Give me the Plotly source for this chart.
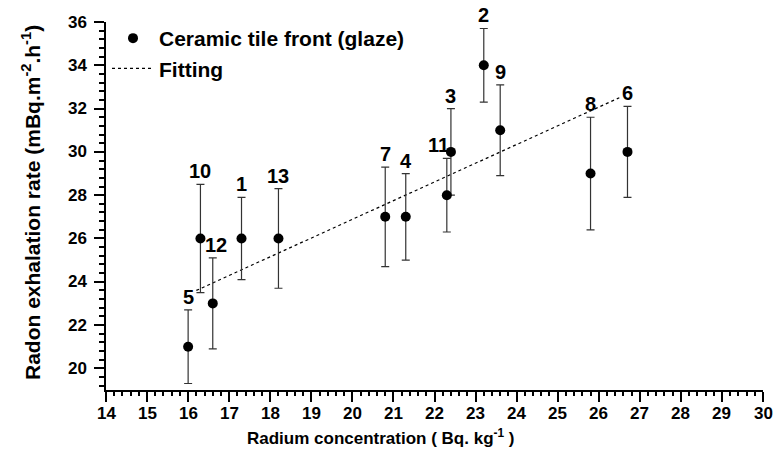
import plotly.graph_objects as go

# ---- data ----
labels = ["5", "10", "12", "1", "13", "7", "4", "11", "3", "2", "9", "8", "6"]
radium = [16.0, 16.3, 16.6, 17.3, 18.2, 20.8, 21.3, 22.3, 22.4, 23.2, 23.6, 25.8, 26.7]
exhalation = [21, 26, 23, 26, 26, 27, 27, 28, 30, 34, 31, 29, 30]
error = [1.7, 2.5, 2.1, 1.9, 2.3, 2.3, 2.0, 1.7, 2.0, 1.7, 2.1, 2.6, 2.1]
fit_x = [16.2, 26.5]
fit_y = [23.6, 32.5]
x_ticks = list(range(14, 31))
y_ticks = list(range(20, 37, 2))

# label nudges (pixels) to avoid overlaps
label_xshift = {"11": -8, "12": 3}

FONT = "Liberation Sans, Arial, sans-serif"
W, H = 775, 461
L, R, T, B = 106, 12, 22, 71
PW, PH = W - L - R, H - T - B


def px_x(p):
    return (p - L) / PW


def px_y(p):
    return (H - B - p) / PH


def bold(s):
    return "<b>" + s + "</b>"


fig = go.Figure()

fig.add_trace(go.Scatter(
    x=fit_x, y=fit_y, mode="lines", name=bold("Fitting"),
    line=dict(color="black", width=1.2, dash="dot"),
))

fig.add_trace(go.Scatter(
    x=radium, y=exhalation, mode="markers", name=bold("Ceramic tile front (glaze)"),
    marker=dict(color="black", size=10, symbol="circle"),
    error_y=dict(type="data", array=error, visible=True, color="#333333",
                 thickness=1.2, width=4),
))

for lab, xv, yv, ev in zip(labels, radium, exhalation, error):
    fig.add_annotation(
        x=xv, y=yv + ev, xref="x", yref="y", text=bold(lab), showarrow=False,
        yanchor="bottom", xanchor="center", yshift=0,
        xshift=label_xshift.get(lab, 0),
        font=dict(family=FONT, size=20, color="black"),
    )

# tick labels (bold, drawn at the axis tick values)
tick_font = dict(family=FONT, size=17, color="black")
for v in x_ticks:
    fig.add_annotation(
        x=v, y=px_y(413), xref="x", yref="paper", text=bold(str(v)),
        showarrow=False, xanchor="center", yanchor="middle", font=tick_font,
    )
for v in y_ticks:
    fig.add_annotation(
        x=px_x(89), y=v, xref="paper", yref="y", text=bold(str(v)),
        showarrow=False, xanchor="right", yanchor="middle", font=tick_font,
    )

# axis titles
fig.add_annotation(
    x=px_x(381), y=px_y(437), xref="paper", yref="paper",
    text=bold("Radium concentration ( Bq. kg<sup>-1</sup> )"), showarrow=False,
    xanchor="center", yanchor="middle",
    font=dict(family=FONT, size=17, color="black"),
)
fig.add_annotation(
    x=px_x(31), y=px_y(203), xref="paper", yref="paper",
    text=bold("Radon exhalation rate (mBq.m<sup>-2</sup>.h<sup>-1</sup>)"),
    showarrow=False, textangle=-90, xanchor="center", yanchor="middle",
    font=dict(family=FONT, size=21, color="black"),
)

axis_common = dict(
    showgrid=False, zeroline=False, showline=True, linecolor="black",
    linewidth=2, ticks="outside", ticklen=10, tickwidth=2, tickcolor="black",
    showticklabels=False, mirror=False,
)

fig.update_xaxes(
    range=[14, 30], tickvals=x_ticks,
    minor=dict(dtick=0.2, tick0=14, ticks="outside", ticklen=4,
               tickwidth=1.5, tickcolor="black"),
    **axis_common,
)
fig.update_yaxes(
    range=[19, 36], tickvals=y_ticks,
    minor=dict(dtick=0.4, tick0=20, ticks="outside", ticklen=5,
               tickwidth=1.5, tickcolor="black"),
    **axis_common,
)

fig.update_layout(
    width=W, height=H,
    margin=dict(l=L, r=R, t=T, b=B, pad=0),
    paper_bgcolor="white", plot_bgcolor="white",
    font=dict(family=FONT, size=17, color="black"),
    showlegend=True,
    legend=dict(
        x=px_x(107), y=px_y(18), xanchor="left", yanchor="top",
        traceorder="reversed",
        font=dict(family=FONT, size=21, color="black"),
        bgcolor="rgba(0,0,0,0)", borderwidth=0, itemwidth=42,
        tracegroupgap=0,
    ),
)

fig.write_html("out.html")
